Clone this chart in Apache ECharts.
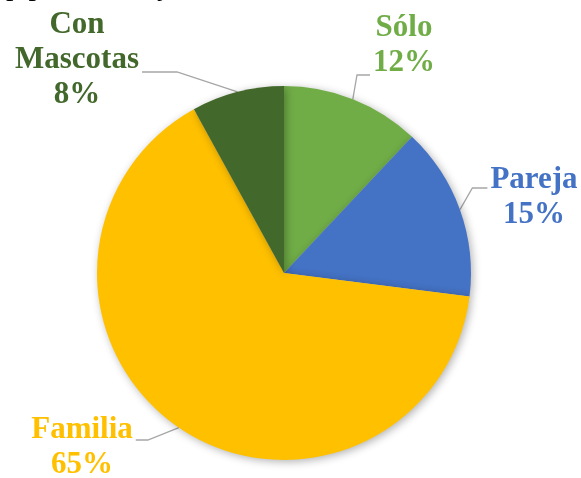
<!DOCTYPE html>
<html>
<head>
<meta charset="utf-8">
<script src="https://cdn.jsdelivr.net/npm/echarts@6/dist/echarts.min.js"></script>
<style>
    html, body { margin: 0; padding: 0; background: #fff; }
    #chart { width: 581px; height: 478px; }
</style>
</head>
<body>
<div id="chart"></div>
<script>
    // datos del gráfico
    var categories = ['Sólo', 'Pareja', 'Familia', 'Con\nMascotas'];
    var values = [12, 15, 65, 8];
    var colors = ['#70AD47', '#4472C4', '#FFC000', '#43682B'];
    // posición de cada etiqueta (centro del bloque de texto)
    var labelPos = [[404, 45], [534, 197], [82, 447], [77, 60]];
    // línea guía: altura del tramo horizontal y su largo
    var stubY = [75, 188, 440, 72];
    var stubLen = [13, 15, 12, 35];

    var chart = echarts.init(document.getElementById('chart'));

    var option = {
        animation: false,
        graphic: [{
            type: 'text',
            left: 6,
            top: -28,
            style: {
                text: 'p por sus viajes.',
                font: '30px "Liberation Serif", serif',
                fill: '#000'
            }
        }],
        series: [{
            type: 'pie',
            center: [284, 273],
            radius: 187,
            startAngle: 90,
            clockwise: true,
            itemStyle: {
                shadowBlur: 8,
                shadowOffsetX: 2,
                shadowOffsetY: 2,
                shadowColor: 'rgba(0,0,0,0.3)'
            },
            label: {
                show: true,
                position: 'outside',
                overflow: 'none',
                formatter: function (p) {
                    return p.name + '\n' + p.value + '%';
                },
                fontFamily: '"Liberation Serif", "Times New Roman", serif',
                fontWeight: 'bold',
                fontSize: 31,
                lineHeight: 35,
                align: 'center'
            },
            labelLine: {
                show: true,
                length: 10,
                length2: 10,
                lineStyle: { color: '#A6A6A6', width: 1.3 }
            },
            labelLayout: function (params) {
                var i = params.dataIndex;
                var pos = labelPos[i];
                var w = params.labelRect.width;
                var anchor = params.labelLinePoints ? params.labelLinePoints[0] : null;
                var res = {
                    x: pos[0],
                    y: pos[1],
                    align: 'center',
                    verticalAlign: 'middle'
                };
                if (anchor) {
                    var right = anchor[0] < pos[0];
                    var edge = right ? pos[0] - w / 2 - 3 : pos[0] + w / 2 + 3;
                    var elbow = right ? edge - stubLen[i] : edge + stubLen[i];
                    res.labelLinePoints = [anchor, [elbow, stubY[i]], [edge, stubY[i]]];
                }
                return res;
            },
            data: categories.map(function (name, i) {
                return {
                    name: name,
                    value: values[i],
                    itemStyle: { color: colors[i] },
                    label: { color: colors[i] }
                };
            })
        }]
    };
    chart.setOption(option);
</script>
</body>
</html>
